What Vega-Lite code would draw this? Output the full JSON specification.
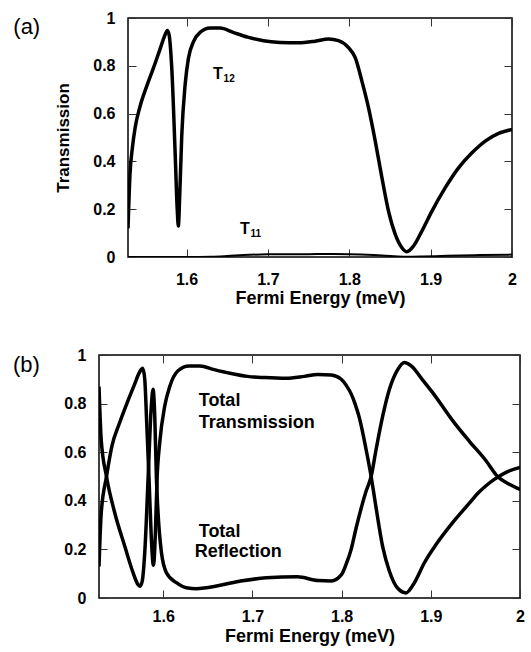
{
  "$schema": "https://vega.github.io/schema/vega-lite/v6.json",
  "background": "white",
  "padding": {"left": 5, "top": 9, "right": 5, "bottom": 5},
  "config": {
    "font": "Liberation Sans",
    "view": {"stroke": "black", "strokeWidth": 1.5},
    "axis": {
      "grid": false, "domain": false,
      "tickColor": "#333", "tickWidth": 1, "tickSize": -8,
      "labelFont": "Liberation Sans", "labelFontWeight": "bold", "labelFontSize": 16, "labelColor": "black",
      "labelFlush": false, "labelOverlap": false,
      "titleFont": "Liberation Sans", "titleFontWeight": "bold", "titleFontSize": 18, "titleColor": "black"
    },
    "title": {"font": "Liberation Sans", "fontWeight": "normal", "fontSize": 22, "color": "black"}
  },
  "datasets": {
    "t12": [
      {"E":1.528,"T":0.12},{"E":1.5305,"T":0.35},{"E":1.5335,"T":0.46},{"E":1.5367,"T":0.54},{"E":1.5428,"T":0.63},
      {"E":1.551,"T":0.715},{"E":1.5592,"T":0.79},{"E":1.5674,"T":0.87},{"E":1.5736,"T":0.93},{"E":1.5764,"T":0.948},
      {"E":1.5785,"T":0.93},{"E":1.5818,"T":0.79},{"E":1.5859,"T":0.44},{"E":1.5885,"T":0.2},{"E":1.5899,"T":0.13},
      {"E":1.5915,"T":0.25},{"E":1.5941,"T":0.51},{"E":1.5982,"T":0.72},{"E":1.6022,"T":0.83},{"E":1.6084,"T":0.9},
      {"E":1.6166,"T":0.94},{"E":1.6289,"T":0.958},{"E":1.6412,"T":0.958},{"E":1.6572,"T":0.94},{"E":1.675,"T":0.92},
      {"E":1.6945,"T":0.905},{"E":1.715,"T":0.898},{"E":1.7375,"T":0.896},{"E":1.7581,"T":0.903},{"E":1.7744,"T":0.912},
      {"E":1.7867,"T":0.905},{"E":1.799,"T":0.876},{"E":1.8073,"T":0.834},{"E":1.8155,"T":0.736},{"E":1.8236,"T":0.625},
      {"E":1.8319,"T":0.485},{"E":1.8401,"T":0.332},{"E":1.8482,"T":0.192},{"E":1.8565,"T":0.095},{"E":1.8647,"T":0.039},
      {"E":1.8708,"T":0.022},{"E":1.879,"T":0.046},{"E":1.8893,"T":0.109},{"E":1.9016,"T":0.192},{"E":1.918,"T":0.29},
      {"E":1.9343,"T":0.373},{"E":1.9508,"T":0.436},{"E":1.9671,"T":0.485},{"E":1.9835,"T":0.517},{"E":2.0,"T":0.534}
    ],
    "t11": [
      {"E":1.528,"T":0.0},{"E":1.6,"T":0.0},{"E":1.63,"T":0.001},{"E":1.65,"T":0.004},{"E":1.67,"T":0.008},
      {"E":1.7,"T":0.011},{"E":1.75,"T":0.012},{"E":1.78,"T":0.013},{"E":1.8,"T":0.012},{"E":1.83,"T":0.008},
      {"E":1.85,"T":0.004},{"E":1.87,"T":0.001},{"E":1.89,"T":0.002},{"E":1.92,"T":0.005},{"E":1.96,"T":0.008},{"E":2.0,"T":0.01}
    ],
    "ttot": [
      {"E":1.528,"T":0.13},{"E":1.5305,"T":0.35},{"E":1.5364,"T":0.5},{"E":1.5428,"T":0.63},{"E":1.551,"T":0.72},
      {"E":1.5592,"T":0.8},{"E":1.5674,"T":0.875},{"E":1.5736,"T":0.93},{"E":1.577,"T":0.945},{"E":1.5793,"T":0.9},
      {"E":1.5815,"T":0.72},{"E":1.5841,"T":0.49},{"E":1.5865,"T":0.26},{"E":1.589,"T":0.135},{"E":1.5905,"T":0.2},
      {"E":1.5915,"T":0.3},{"E":1.5931,"T":0.49},{"E":1.5961,"T":0.64},{"E":1.6017,"T":0.79},{"E":1.6073,"T":0.87},
      {"E":1.6166,"T":0.935},{"E":1.6289,"T":0.955},{"E":1.6412,"T":0.955},{"E":1.6572,"T":0.94},{"E":1.675,"T":0.925},
      {"E":1.6945,"T":0.912},{"E":1.7137,"T":0.907},{"E":1.7375,"T":0.904},{"E":1.7581,"T":0.912},{"E":1.7733,"T":0.92},
      {"E":1.7884,"T":0.918},{"E":1.7996,"T":0.9},{"E":1.8052,"T":0.875},{"E":1.8107,"T":0.84},{"E":1.815,"T":0.8},
      {"E":1.82,"T":0.74},{"E":1.8275,"T":0.61},{"E":1.8331,"T":0.5},{"E":1.8387,"T":0.37},{"E":1.8461,"T":0.21},
      {"E":1.8536,"T":0.11},{"E":1.8629,"T":0.04},{"E":1.8723,"T":0.021},{"E":1.8816,"T":0.063},{"E":1.8928,"T":0.145},
      {"E":1.9059,"T":0.22},{"E":1.9245,"T":0.31},{"E":1.9432,"T":0.39},{"E":1.9525,"T":0.43},{"E":1.9619,"T":0.462},
      {"E":1.9712,"T":0.488},{"E":1.9861,"T":0.52},{"E":2.0,"T":0.537}
    ],
    "rtot": [
      {"E":1.528,"T":0.87},{"E":1.5305,"T":0.65},{"E":1.5364,"T":0.5},{"E":1.5457,"T":0.35},{"E":1.5569,"T":0.213},
      {"E":1.5662,"T":0.104},{"E":1.5718,"T":0.055},{"E":1.574,"T":0.048},{"E":1.5765,"T":0.07},{"E":1.5795,"T":0.2},
      {"E":1.583,"T":0.488},{"E":1.5865,"T":0.78},{"E":1.5886,"T":0.859},{"E":1.5905,"T":0.75},{"E":1.5924,"T":0.49},
      {"E":1.5942,"T":0.35},{"E":1.598,"T":0.187},{"E":1.6036,"T":0.104},{"E":1.6148,"T":0.063},{"E":1.626,"T":0.042},
      {"E":1.6372,"T":0.038},{"E":1.6484,"T":0.042},{"E":1.6857,"T":0.069},{"E":1.7156,"T":0.083},{"E":1.7505,"T":0.087},
      {"E":1.7733,"T":0.072},{"E":1.7884,"T":0.07},{"E":1.7996,"T":0.095},{"E":1.8052,"T":0.14},{"E":1.8107,"T":0.2},
      {"E":1.8164,"T":0.29},{"E":1.8275,"T":0.44},{"E":1.8331,"T":0.5},{"E":1.8387,"T":0.612},{"E":1.8461,"T":0.749},
      {"E":1.8536,"T":0.859},{"E":1.8629,"T":0.94},{"E":1.8704,"T":0.969},{"E":1.878,"T":0.955},{"E":1.8903,"T":0.9},
      {"E":1.9021,"T":0.845},{"E":1.9245,"T":0.73},{"E":1.9432,"T":0.645},{"E":1.9619,"T":0.565},{"E":1.9749,"T":0.5},
      {"E":1.988,"T":0.468},{"E":2.0,"T":0.447}
    ],
    "annA": [
      {"E":1.6326,"T":0.744,"main":"T","sub":"12"},
      {"E":1.6658,"T":0.096,"main":"T","sub":"11"}
    ],
    "annB": [
      {"E":1.6398,"T":0.789,"label":"Total"},
      {"E":1.6398,"T":0.701,"label":"Transmission"},
      {"E":1.6398,"T":0.252,"label":"Total"},
      {"E":1.6353,"T":0.168,"label":"Reflection"}
    ],
    "blank": [{"v": 0}]
  },
  "vconcat": [
    {
      "hconcat": [
        {
          "width": 1, "height": 1, "data": {"name": "blank"},
          "mark": {"type": "point", "opacity": 0},
          "view": {"stroke": null}
        },
        {
          "width": 384, "height": 239,
          "title": {"text": "(a)", "anchor": "start", "frame": "group", "dx": -114.7, "dy": 29, "baseline": "top", "offset": 0},
          "layer": [
            {
              "data": {"name": "t12"},
              "mark": {"type": "line", "color": "black", "strokeWidth": 3.5, "interpolate": "monotone", "clip": true},
              "encoding": {
                "x": {"field": "E", "type": "quantitative", "scale": {"domain": [1.528, 2.0], "nice": false, "zero": false},
                      "axis": {"orient": "bottom", "values": [1.6, 1.7, 1.8, 1.9, 2.0], "format": "~g", "labelPadding": 22, "titlePadding": 2, "title": "Fermi Energy (meV)"}},
                "y": {"field": "T", "type": "quantitative", "scale": {"domain": [0, 1], "nice": false, "zero": false},
                      "axis": {"orient": "left", "values": [0, 0.2, 0.4, 0.6, 0.8, 1], "format": "~g", "labelPadding": 21, "titlePadding": 20, "titleFontSize": 17, "title": "Transmission"}}
              }
            },
            {
              "data": {"name": "t11"},
              "mark": {"type": "line", "color": "black", "strokeWidth": 2, "interpolate": "monotone", "clip": true},
              "encoding": {
                "x": {"field": "E", "type": "quantitative", "axis": {"orient": "top", "values": [1.6, 1.7, 1.8, 1.9, 2.0], "labels": false, "title": null}},
                "y": {"field": "T", "type": "quantitative", "axis": {"orient": "right", "values": [0, 0.2, 0.4, 0.6, 0.8, 1], "labels": false, "title": null}}
              }
            },
            {
              "data": {"name": "annA"},
              "mark": {"type": "text", "align": "left", "baseline": "alphabetic", "fontSize": 16, "fontWeight": "bold", "color": "black"},
              "encoding": {
                "x": {"field": "E", "type": "quantitative", "axis": null},
                "y": {"field": "T", "type": "quantitative", "axis": null},
                "text": {"field": "main"}
              }
            },
            {
              "data": {"name": "annA"},
              "mark": {"type": "text", "align": "left", "baseline": "alphabetic", "fontSize": 10, "fontWeight": "bold", "color": "black", "dx": 10.5, "dy": 3},
              "encoding": {
                "x": {"field": "E", "type": "quantitative", "axis": null},
                "y": {"field": "T", "type": "quantitative", "axis": null},
                "text": {"field": "sub"}
              }
            }
          ],
          "resolve": {"axis": {"x": "independent", "y": "independent"}}
        }
      ],
      "spacing": 0
    },
    {
      "hconcat": [
        {
          "width": 1, "height": 1, "data": {"name": "blank"},
          "mark": {"type": "point", "opacity": 0},
          "view": {"stroke": null}
        },
        {
          "width": 421, "height": 243,
          "title": {"text": "(b)", "anchor": "start", "frame": "group", "dx": -86, "dy": 30, "baseline": "top", "offset": 0},
          "layer": [
            {
              "data": {"name": "ttot"},
              "mark": {"type": "line", "color": "black", "strokeWidth": 3.5, "interpolate": "monotone", "clip": true},
              "encoding": {
                "x": {"field": "E", "type": "quantitative", "scale": {"domain": [1.528, 2.0], "nice": false, "zero": false},
                      "axis": {"orient": "bottom", "values": [1.6, 1.7, 1.8, 1.9, 2.0], "format": "~g", "labelPadding": 18, "titlePadding": 3, "title": "Fermi Energy (meV)"}},
                "y": {"field": "T", "type": "quantitative", "scale": {"domain": [0, 1], "nice": false, "zero": false},
                      "axis": {"orient": "left", "values": [0, 0.2, 0.4, 0.6, 0.8, 1], "format": "~g", "labelPadding": 21, "title": null}}
              }
            },
            {
              "data": {"name": "rtot"},
              "mark": {"type": "line", "color": "black", "strokeWidth": 3.5, "interpolate": "monotone", "clip": true},
              "encoding": {
                "x": {"field": "E", "type": "quantitative", "axis": {"orient": "top", "values": [1.6, 1.7, 1.8, 1.9, 2.0], "labels": false, "title": null}},
                "y": {"field": "T", "type": "quantitative", "axis": {"orient": "right", "values": [0, 0.2, 0.4, 0.6, 0.8, 1], "labels": false, "title": null}}
              }
            },
            {
              "data": {"name": "annB"},
              "mark": {"type": "text", "align": "left", "baseline": "alphabetic", "fontSize": 18, "fontWeight": "bold", "color": "black"},
              "encoding": {
                "x": {"field": "E", "type": "quantitative", "axis": null},
                "y": {"field": "T", "type": "quantitative", "axis": null},
                "text": {"field": "label"}
              }
            }
          ],
          "resolve": {"axis": {"x": "independent", "y": "independent"}}
        }
      ],
      "spacing": 0
    }
  ],
  "spacing": 38
}
